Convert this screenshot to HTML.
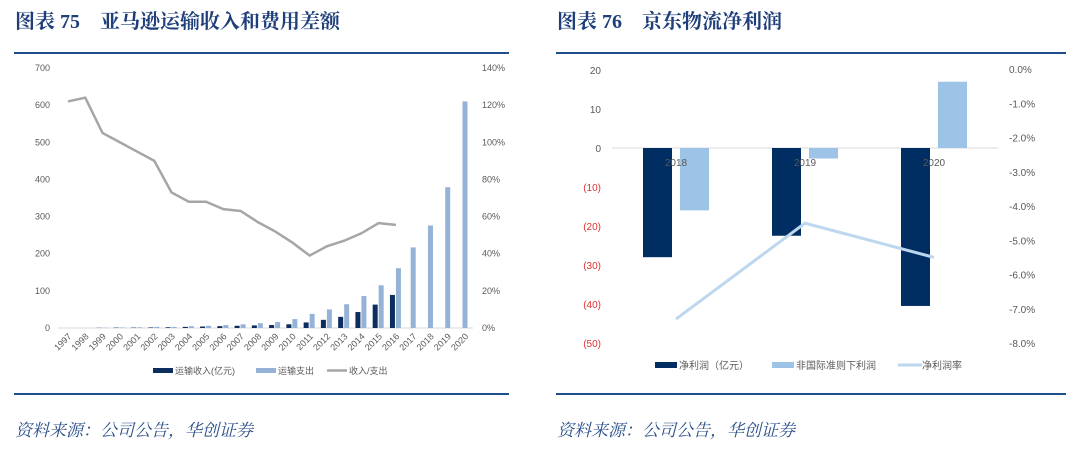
<!DOCTYPE html>
<html><head><meta charset="utf-8"><style>
body{margin:0;background:#fff;}
svg{display:block;font-family:"Liberation Sans","Noto Sans CJK SC",sans-serif;}
.t{font-family:"Liberation Serif","Noto Serif CJK SC",serif;font-weight:bold;fill:#1f3f7a;font-size:20px;}
.s{font-family:"Liberation Serif","Noto Serif CJK SC",serif;font-style:italic;fill:#2a4f8a;font-size:17px;}
.ax{font-size:9px;fill:#595959;}
</style></head><body>
<svg id="svg" width="1080" height="455" viewBox="0 0 1080 455">
<text class="t" x="15" y="28">图表 75　亚马逊运输收入和费用差额</text>
<line x1="14" y1="53" x2="509" y2="53" stroke="#1f4e8c" stroke-width="2"/>
<line x1="14" y1="394" x2="509" y2="394" stroke="#1f4e8c" stroke-width="2"/>
<text class="s" x="15" y="436">资料来源：公司公告，华创证券</text>
<text class="t" x="557" y="28">图表 76　京东物流净利润</text>
<line x1="556" y1="53" x2="1066" y2="53" stroke="#1f4e8c" stroke-width="2"/>
<line x1="556" y1="394" x2="1066" y2="394" stroke="#1f4e8c" stroke-width="2"/>
<text class="s" x="557" y="436">资料来源：公司公告，华创证券</text>
<g id="c1"></g>
<g id="c2"></g>
</svg>
<script>
const years1=["1997","1998","1999","2000","2001","2002","2003","2004","2005","2006","2007","2008","2009","2010","2011","2012","2013","2014","2015","2016","2017","2018","2019","2020"];
const revenue1=[0,0,0.5,1,1,1.5,2,3,4,5,6,7,8,10,15,22,30,43,63,89,null,null,null,null];
const cost1=[0,0,1,1.5,2,3,3,5,6,8,10,13,16,24,38,50,64,86,115,161,217,276,379,610];
const ratio1=[122,124,105,100,95,90,73,68,68,64,63,57,52,46,39,44,47,51,56.5,55.5];
const leftTicks1=[0,100,200,300,400,500,600,700];
const rightTicks1=[0,20,40,60,80,100,120,140];

const years2=["2018","2019","2020"];
const profit2=[-28,-22.5,-40.5];
const nonIfrs2=[-16,-2.7,17];
const rate2=[-7.3,-4.5,-5.5];
const leftTicks2=[20,10,0,-10,-20,-30,-40,-50];
const rightTicks2=[0,-1,-2,-3,-4,-5,-6,-7,-8];

const NS="http://www.w3.org/2000/svg";
function mk(p,tag,a,txt){const e=document.createElementNS(NS,tag);for(const k in a)e.setAttribute(k,a[k]);if(txt!=null)e.textContent=txt;p.appendChild(e);return e;}

// Chart 1
(function(){
const g=document.getElementById('c1');
const y=v=>328-v/700*260, yr=v=>328-v/140*260, x=i=>68+i*17.26;
leftTicks1.forEach(v=>{const t=mk(g,'text',{x:50,y:y(v)+3,'text-anchor':'end',class:'ax'},v);

});
rightTicks1.forEach(v=>{const t=mk(g,'text',{x:482,y:yr(v)+3,class:'ax'},v+'%');

});
const b=mk(g,'line',{x1:58,y1:328,x2:473,y2:328,stroke:'#d9d9d9'});


years1.forEach((yy,i)=>{
 if(revenue1[i]!=null){const r=mk(g,'rect',{x:x(i)-6,y:y(revenue1[i]),width:5,height:328-y(revenue1[i]),fill:'#0d2d5e'});
 
 }
 const c=mk(g,'rect',{x:x(i)-(revenue1[i]==null?2.5:0),y:y(cost1[i]),width:5,height:328-y(cost1[i]),fill:'#95b3d7'});
 
 
 const t=mk(g,'text',{x:x(i)+4,y:337,'text-anchor':'end',class:'ax',transform:`rotate(-45 ${x(i)+4} 337)`},yy);
 
 
});
const l=mk(g,'polyline',{points:ratio1.map((v,i)=>x(i)+','+yr(v)).join(' '),fill:'none',stroke:'#a6a6a6','stroke-width':2.5});


const leg=[['rect','#0d2d5e','运输收入(亿元)',153],['rect','#95b3d7','运输支出',256],['line','#a6a6a6','收入/支出',327]];
leg.forEach(([k,c,txt,lx])=>{
 const e=k=='rect'?mk(g,'rect',{x:lx,y:368,width:20,height:5,fill:c}):mk(g,'line',{x1:lx,y1:370.5,x2:lx+20,y2:370.5,stroke:c,'stroke-width':2.5});
 
 
 const t=mk(g,'text',{x:lx+22,y:374,class:'ax'},txt);
 
 
});
})();

// Chart 2
(function(){
const g=document.getElementById('c2');
const y=v=>148-v*3.9, yr=v=>69+(v/-8)*274, x=i=>676+i*129;
leftTicks2.forEach(v=>{const t=mk(g,'text',{x:601,y:y(v)+4,'text-anchor':'end',class:'ax',style:'font-size:10px;fill:'+(v<0?'#e03030':'#595959')},v<0?'('+(-v)+')':v);

});
rightTicks2.forEach(v=>{const t=mk(g,'text',{x:1009,y:yr(v)+4,class:'ax',style:'font-size:10px'},v.toFixed(1)+'%');

});
const z=mk(g,'line',{x1:612,y1:148,x2:998,y2:148,stroke:'#d9d9d9'});


years2.forEach((yy,i)=>{
 const a=mk(g,'rect',{x:x(i)-33,y:Math.min(y(0),y(profit2[i])),width:29,height:Math.abs(y(profit2[i])-y(0)),fill:'#002d62'});
 
 
 const b=mk(g,'rect',{x:x(i)+4,y:Math.min(y(0),y(nonIfrs2[i])),width:29,height:Math.abs(y(nonIfrs2[i])-y(0)),fill:'#9dc3e6'});
 
 
 const t=mk(g,'text',{x:x(i),y:166,'text-anchor':'middle',class:'ax',style:'font-size:10px'},yy);
 
 
});
const l=mk(g,'polyline',{points:rate2.map((v,i)=>x(i)+','+yr(v)).join(' '),fill:'none',stroke:'#bdd7ee','stroke-width':3});


const leg=[['rect','#002d62','净利润（亿元）',655],['rect','#9dc3e6','非国际准则下利润',772],['line','#bdd7ee','净利润率',898]];
leg.forEach(([k,c,txt,lx])=>{
 const e=k=='rect'?mk(g,'rect',{x:lx,y:362,width:22,height:6,fill:c}):mk(g,'line',{x1:lx,y1:365,x2:lx+24,y2:365,stroke:c,'stroke-width':3});
 
 
 const t=mk(g,'text',{x:lx+24,y:369,class:'ax',style:'font-size:10px'},txt);
 
 
});
})();
</script>
</body></html>
